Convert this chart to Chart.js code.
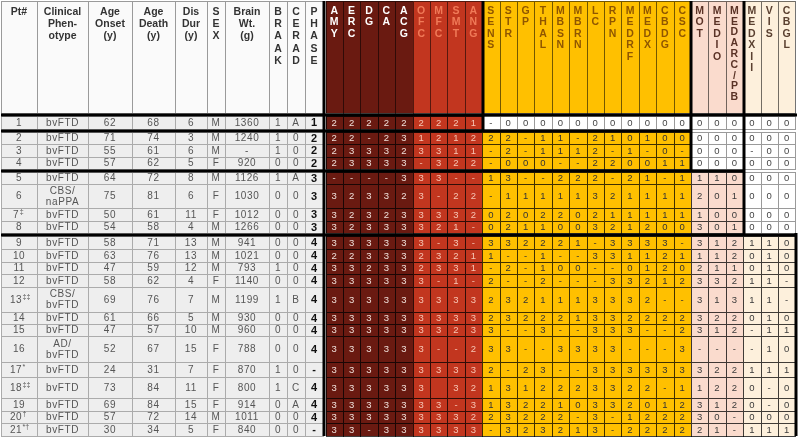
<!DOCTYPE html>
<html>
<head>
<meta charset="utf-8">
<script src="https://cdn.jsdelivr.net/npm/chart.js@4.4.1/dist/chart.umd.min.js"></script>
<style>
  html, body { margin: 0; padding: 0; background: #fff; }
  #wrap { width: 800px; height: 440px; }
</style>
</head>
<body>
<div id="wrap"><canvas id="tbl"></canvas></div>
<script>
const patients = ['1','2','3','4','5','6','7‡','8','9','10','11','12','13‡‡','14','15','16','17*','18‡‡','19','20†','21*†'];
const phenotypes = ['bvFTD','bvFTD','bvFTD','bvFTD','bvFTD','CBS/\nnaPPA','bvFTD','bvFTD','bvFTD','bvFTD','bvFTD','bvFTD','CBS/\nbvFTD','bvFTD','bvFTD','AD/\nbvFTD','bvFTD','bvFTD','bvFTD','bvFTD','bvFTD'];
const ageOnset = [62,71,55,57,64,75,50,54,58,63,47,58,69,61,47,52,24,73,69,57,30];
const ageDeath = [68,74,61,62,72,81,61,58,71,76,59,62,76,66,57,67,31,84,84,72,34];
const disDur = [6,3,6,5,8,6,11,4,13,13,12,4,7,5,10,15,7,11,15,14,5];
const sex = ['M','M','M','F','M','F','F','M','M','M','M','F','M','M','M','F','F','F','F','M','F'];
const brainWt = [1360,1240,'-',920,1126,1030,1012,1266,941,1021,793,1140,1199,930,960,788,870,800,914,1011,840];
const braak = [1,1,1,0,1,0,0,0,0,0,1,0,1,0,0,0,1,1,0,0,0];
const cerad = ['A','0','0','0','A','0','0','0','0','0','0','0','B','0','0','0','0','C','A','0','0'];
const phase = ['1','2','2','2','3','3','3','3','4','4','4','4','4','4','4','4','-','4','4','4','-'];
// staging block each case is boxed into
const stage = [1,2,2,2,3,3,3,3,4,4,4,4,4,4,4,4,4,4,4,4,4];

const leftHeaders = ['Pt#','Clinical\nPhen-\notype','Age\nOnset\n(y)','Age\nDeath\n(y)','Dis\nDur\n(y)','S\nE\nX','Brain\nWt.\n(g)','B\nR\nA\nA\nK','C\nE\nR\nA\nD','P\nH\nA\nS\nE'];

const regions = ['AMY','ERC','DG','CA','ACG','OFC','MFC','SMT','ANG','SENS','STR','GP','THAL','MBSN','MBRN','LC','RPN','MEDRF','MEDX','CBDG','CSC','MOT','MEDIO','MEDARC/PB','MEDXII','VIS','CBGL'];
const regionGroup = [0,0,0,0,0,1,1,1,1,2,2,2,2,2,2,2,2,2,2,2,2,3,3,3,4,4,4];
const groupStage = [1,1,2,3,4];

// '.' = empty cell
const scores = [
  '2 2 2 2 2 2 2 2 1 - 0 0 0 0 0 0 0 0 0 0 0 0 0 0 0 0 0',
  '2 2 - 2 3 1 2 1 2 2 2 - 1 1 - 2 1 0 1 0 0 0 0 0 0 0 0',
  '2 3 3 3 2 3 3 1 1 - 2 - 1 1 1 2 - 1 - 0 - 0 0 0 - 0 0',
  '2 3 3 3 3 - 3 2 2 - 0 0 0 - - 2 2 0 0 1 1 0 0 0 0 0 0',
  '- - - - 3 3 3 - - 1 3 - - 2 2 2 - 2 1 - 1 1 1 0 0 0 0',
  '3 2 3 3 2 3 - 2 2 - 1 1 1 1 1 3 2 1 1 1 1 2 0 1 0 0 0',
  '3 2 3 2 3 3 3 3 2 0 2 0 2 2 0 2 1 1 1 1 1 1 0 0 0 0 0',
  '3 2 3 3 3 3 2 1 - 0 2 1 1 0 0 3 2 1 2 0 0 3 0 1 0 0 0',
  '3 3 3 3 3 3 - 3 - 3 3 2 2 2 1 - 3 3 3 3 - 3 1 2 1 1 0',
  '2 2 3 3 3 2 3 2 1 1 - - 1 - - 3 3 1 1 2 1 1 1 2 0 1 0',
  '3 3 2 3 3 2 3 3 1 - 2 - 1 0 0 - - 0 1 2 0 2 1 1 0 1 0',
  '3 3 3 3 3 3 - 1 - 2 - - 2 - - - 3 3 2 1 2 3 3 2 1 1 -',
  '3 3 3 3 3 3 3 3 3 2 3 2 1 1 1 3 3 3 2 - - 3 1 3 1 1 -',
  '3 3 3 3 3 3 3 3 3 2 3 2 2 2 1 3 3 2 2 2 2 3 2 2 0 1 0',
  '3 3 3 3 3 3 3 2 3 3 - - 3 - - 3 3 3 - - 2 3 1 2 - 1 1',
  '3 3 3 3 3 3 - - 2 3 3 - - 3 3 3 3 - - - 3 - - - - 1 0',
  '3 3 3 3 3 3 3 3 3 2 - 2 3 - - 3 3 3 3 3 3 3 2 2 1 1 1',
  '3 3 3 3 3 3 . 3 2 1 3 1 2 2 2 3 3 2 2 - 1 1 2 2 0 - 0',
  '3 3 3 3 3 3 3 - 3 1 3 2 2 1 0 3 3 2 0 1 2 3 1 2 0 - 0',
  '3 3 3 3 3 3 3 3 2 2 3 2 2 2 - 3 - 1 2 2 2 3 0 - 0 0 0',
  '3 3 - 3 3 3 3 3 3 - 3 2 3 2 1 3 - 2 2 2 2 2 1 - 1 1 1'
];

// ---- layout (table units = chart scale units) ----
const tableLeft = 1, headerTop = 1, headerBottom = 113, gap = 3;
const leftWidths = [36, 51, 44, 43, 32, 18, 44, 18, 18, 18];
const regionWidth = 17.4;
const rowHeights = [13, 12,13,12, 12,24,13,12, 13,13,12,13,25,12,12,26,15,21,13,12,13];
const gapAfter = [0, 3, 7];

const groupFill = ['#6a1a11','#c2361f','#ffc000','#fadbcd','#fdf0dc'];
const groupText = ['#efe0da','#f6c6b5','#333333','#3a3a3a','#3a3a3a'];
const groupHead = ['#ffffff','#f07a58','#8f5600','#5a3226','#5a4030'];
const FONT = "'Liberation Sans', Arial, sans-serif";

const tablePlugin = {
  id: 'tablePlugin',
  afterDraw(chart) {
    const ctx = chart.ctx;
    const sx = chart.scales.x, sy = chart.scales.y;
    const X = v => Math.round(sx.getPixelForValue(v));
    const Y = v => Math.round(sy.getPixelForValue(v));

    const colEdges = [tableLeft];
    leftWidths.forEach(w => colEdges.push(colEdges[colEdges.length - 1] + w));
    const leftEnd = colEdges[colEdges.length - 1];
    const regStart = leftEnd + 2.5;
    const regEdges = [];
    for (let i = 0; i <= regions.length; i++) regEdges.push(regStart + i * regionWidth);
    const tableRight = regEdges[regEdges.length - 1];

    const rowTop = [], rowBot = [];
    let yy = headerBottom + gap;
    rowHeights.forEach((h, r) => {
      rowTop.push(yy); rowBot.push(yy + h);
      yy += h + (gapAfter.includes(r) ? gap : 0);
    });
    const tableBottom = rowBot[rowBot.length - 1];

    function cell(x0, x1, y0, y1, fill, stroke) {
      const a = X(x0), b = X(x1), c = Y(y0), d = Y(y1);
      ctx.fillStyle = fill;
      ctx.fillRect(a, c, b - a, d - c);
      if (stroke) {
        ctx.strokeStyle = stroke;
        ctx.lineWidth = 1;
        ctx.strokeRect(a + 0.5, c + 0.5, b - a, d - c);
      }
    }
    function text(str, cx, cy, font, color, spacing) {
      ctx.font = font;
      ctx.fillStyle = color;
      ctx.textAlign = 'center';
      ctx.textBaseline = 'middle';
      ctx.letterSpacing = (spacing || 0) + 'px';
      ctx.fillText(str, sx.getPixelForValue(cx), sy.getPixelForValue(cy));
      ctx.letterSpacing = '0px';
    }
    function lines(str, cx, top, step, font, color) {
      str.split('\n').forEach((s, i) => text(s, cx, top + i * step, font, color));
    }

    ctx.save();
    // header, left part
    leftHeaders.forEach((h, c) => {
      cell(colEdges[c], colEdges[c + 1], headerTop, headerBottom, '#fafafa', '#9a9a9a');
      const step = h.split('\n').length > 3 ? 12.3 : 12;
      lines(h, (colEdges[c] + colEdges[c + 1]) / 2, headerTop + 11, step, 'bold 10.5px ' + FONT, '#333');
    });
    // header, regions
    regions.forEach((name, i) => {
      const g = regionGroup[i];
      cell(regEdges[i], regEdges[i + 1], headerTop, headerBottom, groupFill[g], 'rgba(0,0,0,0.55)');
      const step = name.length > 8 ? 10.8 : 11.5;
      lines(name.split('').join('\n'), (regEdges[i] + regEdges[i + 1]) / 2, headerTop + 10, step, 'bold 10.5px ' + FONT, groupHead[g]);
    });

    // body rows
    const leftCols = [patients, phenotypes, ageOnset, ageDeath, disDur, sex, brainWt, braak, cerad, phase];
    patients.forEach((p, r) => {
      const cy = (rowTop[r] + rowBot[r]) / 2;
      leftCols.forEach((col, c) => {
        cell(colEdges[c], colEdges[c + 1], rowTop[r], rowBot[r], '#eeeeee', '#ababab');
        const cx = (colEdges[c] + colEdges[c + 1]) / 2;
        const v = String(col[r]);
        if (c === 0) {
          const m = v.match(/^(\d+)(.*)$/);
          ctx.font = '10px ' + FONT;
          const w = ctx.measureText(m[1]).width;
          text(m[1], cx - (m[2] ? 3 : 0), cy + 0.5, '10px ' + FONT, '#555', 0.4);
          if (m[2]) {
            ctx.font = '7px ' + FONT;
            ctx.fillStyle = '#555';
            ctx.textAlign = 'left';
            ctx.textBaseline = 'middle';
            ctx.fillText(m[2], sx.getPixelForValue(cx - 3) + w / 2 + 1, sy.getPixelForValue(cy - 2.5));
          }
        } else if (c === 9) {
          text(v, cx, cy + 0.5, 'bold 11px ' + FONT, '#111');
        } else {
          const parts = v.split('\n');
          parts.forEach((s, k) => text(s, cx, cy + 0.5 + (k - (parts.length - 1) / 2) * 11, '10px ' + FONT, '#555', 0.6));
        }
      });
      const vals = scores[r].split(' ');
      regions.forEach((name, i) => {
        const g = regionGroup[i];
        const on = groupStage[g] <= stage[r];
        cell(regEdges[i], regEdges[i + 1], rowTop[r], rowBot[r], on ? groupFill[g] : '#ffffff', on ? 'rgba(0,0,0,0.75)' : '#9a9a9a');
        const v = vals[i] === '.' ? '' : vals[i];
        text(v, (regEdges[i] + regEdges[i + 1]) / 2, cy + 0.5, '9.5px ' + FONT, on ? groupText[g] : '#444');
      });
    });

    // thick staging lines
    ctx.fillStyle = '#000';
    function hbar(x0, x1, yc) { ctx.fillRect(X(x0), Y(yc) - 1.5, X(x1) - X(x0), 3); }
    function vbar(xc, y0, y1) { ctx.fillRect(X(xc) - 1.5, Y(y0), 3, Y(y1) - Y(y0)); }
    vbar((leftEnd + regStart) / 2, headerTop, tableBottom);
    hbar(tableLeft, tableRight + 1.5, headerBottom + gap / 2);
    const stageEndX = s => {
      let last = 0;
      regions.forEach((n, i) => { if (groupStage[regionGroup[i]] === s) last = i; });
      return regEdges[last + 1];
    };
    const stageLastRow = s => stage.lastIndexOf(s);
    [1, 2, 3].forEach(s => hbar(tableLeft, stageEndX(s + 1) + 1.5, rowBot[stageLastRow(s)] + gap / 2));
    [1, 2, 3].forEach(s => vbar(stageEndX(s) + 0.5, headerTop, rowBot[stageLastRow(s)] + gap));
    // last block is only boxed below the previous stage
    vbar(stageEndX(4) + 0.5, rowBot[stageLastRow(3)], tableBottom);
    ctx.restore();
  }
};

new Chart(document.getElementById('tbl'), {
  type: 'scatter',
  data: { datasets: [{ data: [] }] },
  options: {
    responsive: true,
    maintainAspectRatio: false,
    animation: false,
    events: [],
    layout: { padding: 0 },
    plugins: { legend: { display: false }, tooltip: { enabled: false } },
    scales: {
      x: { type: 'linear', min: 0, max: 800, display: false },
      y: { type: 'linear', min: 0, max: 440, reverse: true, display: false }
    }
  },
  plugins: [tablePlugin]
});
</script>
</body>
</html>
